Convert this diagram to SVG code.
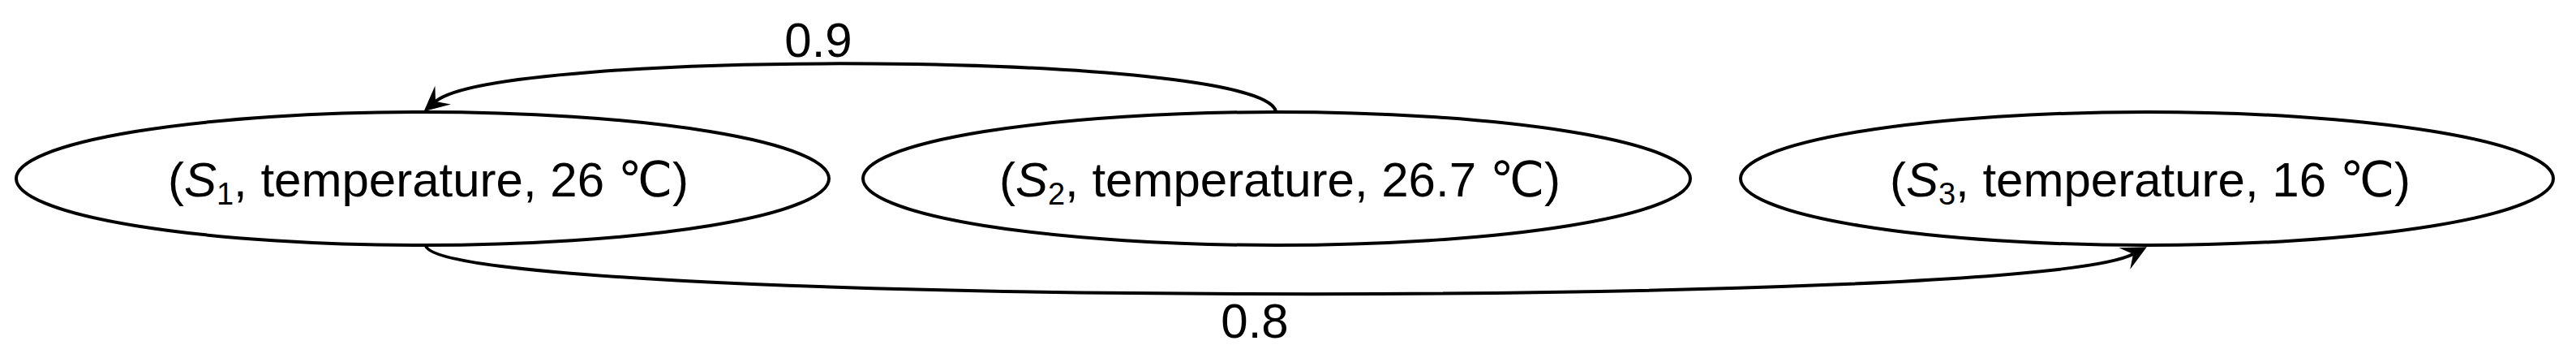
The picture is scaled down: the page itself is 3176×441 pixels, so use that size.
<svg xmlns="http://www.w3.org/2000/svg" width="3176" height="441" viewBox="0 0 3176 441">
<style>
.node ellipse{fill:#fff;stroke:#000;stroke-width:4}
.lbl{font-family:"Liberation Sans",Arial,"DejaVu Sans",sans-serif;font-size:60px;fill:#000;text-anchor:middle}
.edge{fill:none;stroke:#000;stroke-width:4}
.it{font-style:italic}
.sub{font-size:38px}
</style>
<defs>
<marker id="arr" markerUnits="userSpaceOnUse" viewBox="-13 -16 34 32" refX="0" refY="0" markerWidth="34" markerHeight="32" orient="auto">
<path d="M19,0 L-12,-15 L0,0 L-12,15 Z" fill="#000"/>
</marker>
</defs>
<rect width="3176" height="441" fill="#fff"/>
<g id="connectors">
<path class="edge" d="M1573,137 C1555,62 613,60 537,125" marker-end="url(#arr)"/>
<text class="lbl" x="1009" y="70">0.9</text>
<path class="edge" d="M525,303 C545,378 2497,382 2630,313" marker-end="url(#arr)"/>
<text class="lbl" x="1547" y="416">0.8</text>
</g>
<g id="node-s1" class="node">
<ellipse cx="521" cy="220" rx="501" ry="82"/>
<text class="lbl" x="528" y="242">(<tspan class="it">S</tspan><tspan class="sub" dy="10">1</tspan><tspan dy="-10">, temperature, 26 ℃)</tspan></text>
</g>
<g id="node-s2" class="node">
<ellipse cx="1574" cy="220" rx="510" ry="82"/>
<text class="lbl" x="1578" y="242">(<tspan class="it">S</tspan><tspan class="sub" dy="10">2</tspan><tspan dy="-10">, temperature, 26.7 ℃)</tspan></text>
</g>
<g id="node-s3" class="node">
<ellipse cx="2647" cy="220" rx="501" ry="82"/>
<text class="lbl" x="2651" y="242">(<tspan class="it">S</tspan><tspan class="sub" dy="10">3</tspan><tspan dy="-10">, temperature, 16 ℃)</tspan></text>
</g>
</svg>
